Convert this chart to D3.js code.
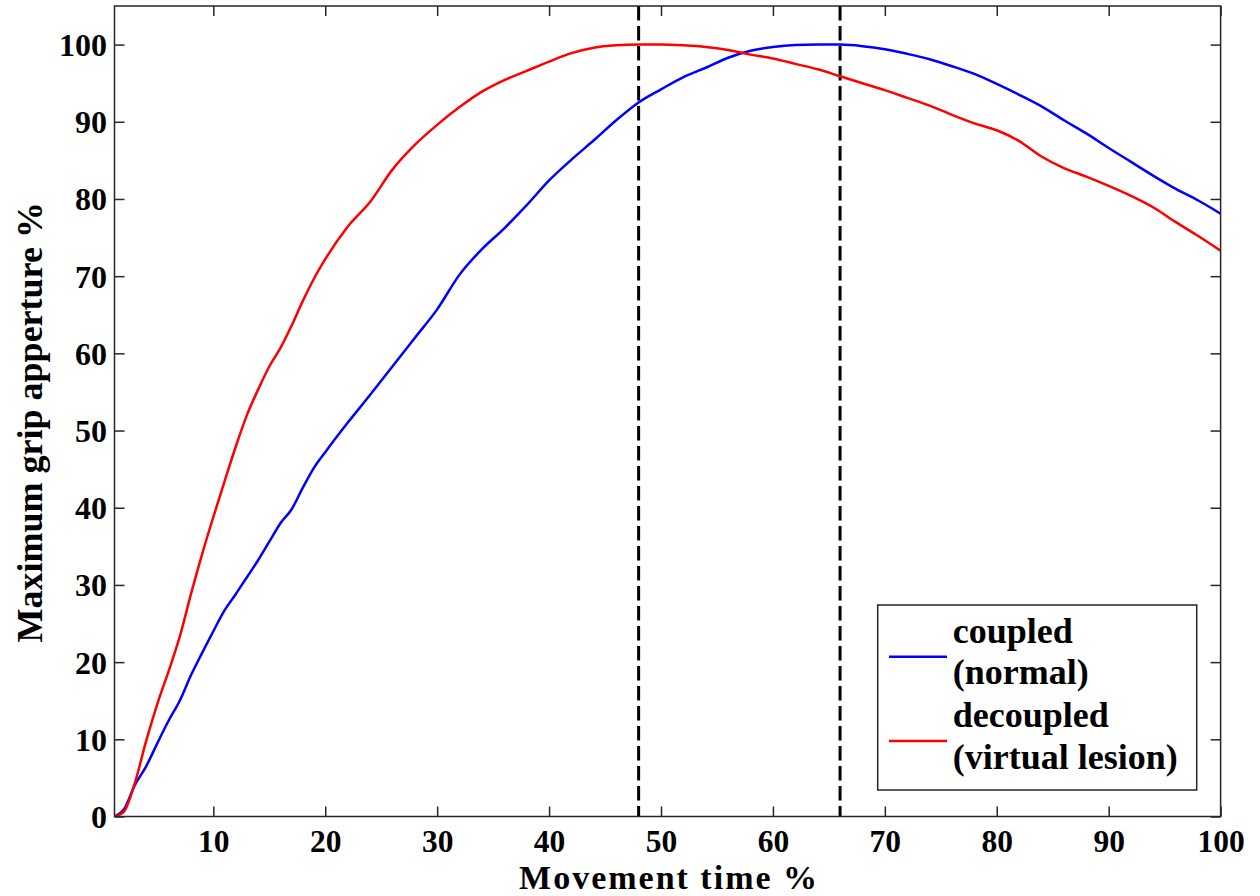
<!DOCTYPE html>
<html>
<head>
<meta charset="utf-8">
<script src="https://cdn.jsdelivr.net/npm/d3@7"></script>
<style>
  html, body { margin: 0; padding: 0; background: #fff; }
  svg { display: block; }
  svg text { font-family: "Liberation Serif", "DejaVu Serif", "Noto Serif", "Times New Roman", Times, serif !important; font-weight: bold; fill: #000; }
</style>
</head>
<body>
<svg id="chart" width="1260" height="896"></svg>
<script>
// Movement time (% of reach) at which grip aperture was sampled
const timePct = [1.2, 2, 3, 4, 5, 6, 7, 8, 9, 10, 11, 12, 13, 14, 15, 16, 17, 18, 19, 20,
  22, 24, 26, 28, 30, 32, 34, 36, 38, 40, 42, 44, 46, 48, 50, 52, 54, 56, 58, 60,
  62, 64, 66, 68, 70, 72, 74, 76, 78, 80, 82, 84, 86, 88, 90, 92, 94, 96, 98, 100];

// Normalised grip aperture, coupled (normal) model
const coupled = [0, 0.9, 4.1, 6.5, 9.5, 12.4, 15.0, 18.3, 21.2, 24.0, 26.7, 28.8, 31.0, 33.2, 35.6, 38.0, 39.8, 42.6, 45.2, 47.2,
  51.0, 54.6, 58.3, 62.0, 65.7, 70.2, 73.5, 76.2, 79.2, 82.4, 85.1, 87.6, 90.2, 92.5, 94.2, 95.8, 97.0, 98.3, 99.2, 99.7,
  99.95, 100, 100, 99.8, 99.4, 98.8, 98.1, 97.2, 96.2, 94.9, 93.5, 92.0, 90.2, 88.5, 86.6, 84.8, 83.0, 81.3, 79.8, 78.1];

// Normalised grip aperture, decoupled (virtual lesion) model
const decoupled = [0, 0.6, 4.4, 9.8, 14.6, 18.8, 23.3, 28.8, 34.0, 38.8, 43.4, 47.9, 52.0, 55.3, 58.3, 60.7, 63.6, 66.8, 69.7, 72.2,
  76.4, 79.6, 83.8, 87.0, 89.6, 91.9, 93.9, 95.4, 96.6, 97.8, 98.9, 99.6, 99.9, 100, 100, 99.9, 99.7, 99.3, 98.7, 98.2,
  97.5, 96.8, 95.9, 95.0, 94.1, 93.1, 92.1, 90.9, 89.8, 88.9, 87.5, 85.5, 84.0, 82.9, 81.7, 80.4, 78.9, 77.0, 75.2, 73.3];

// Times of peak aperture for each model
const peakTimes = [48, 66];

const xTicks = [10, 20, 30, 40, 50, 60, 70, 80, 90, 100];
const yTicks = [0, 10, 20, 30, 40, 50, 60, 70, 80, 90, 100];

const seriesNames = ["coupled", "decoupled"];
const legendLines = [["coupled", "(normal)"], ["decoupled", "(virtual lesion)"]];
const seriesColors = ["#0000ff", "#ff0000"];

const xLabel = "Movement time %";
const yLabel = "Maximum grip apperture %";

const serif = "'Liberation Serif', 'DejaVu Serif', 'Noto Serif', serif";

const svg = d3.select("#chart");
const plotLeft = 114.5, plotRight = 1220.6, plotTop = 6, plotBottom = 816.5;

const x = d3.scaleLinear().domain([1.17, 100]).range([plotLeft, plotRight]);
const y = d3.scaleLinear().domain([0, 105]).range([plotBottom, plotTop]);

const frameColor = "#262626";
const tickLen = 10;

// Curves
const seriesData = [coupled, decoupled];
const line = d3.line()
  .x((d, i) => x(timePct[i]))
  .y(d => y(d))
  .curve(d3.curveMonotoneX);

const plot = svg.append("g");
plot.append("clipPath").attr("id", "clip")
  .append("rect").attr("x", plotLeft).attr("y", plotTop)
  .attr("width", plotRight - plotLeft).attr("height", plotBottom - plotTop);

// Peak time markers
plot.selectAll("line.peak").data(peakTimes).join("line")
  .attr("class", "peak")
  .attr("x1", d => x(d)).attr("x2", d => x(d))
  .attr("y1", plotTop).attr("y2", plotBottom)
  .attr("stroke", "#000").attr("stroke-width", 3)
  .attr("stroke-dasharray", "14.5 5.5");

plot.selectAll("path.series").data(seriesData).join("path")
  .attr("class", "series")
  .attr("clip-path", "url(#clip)")
  .attr("d", d => line(d))
  .attr("fill", "none")
  .attr("stroke", (d, i) => seriesColors[i])
  .attr("stroke-width", 2.5)
  .attr("stroke-linejoin", "round");

// Axes (ticks drawn inside, mirrored on top and right)
const axisBottom = d3.axisBottom(x).tickValues(xTicks).tickSize(-tickLen).tickFormat(d3.format("d"));
const axisTop = d3.axisTop(x).tickValues(xTicks).tickSize(-tickLen).tickFormat("");
const axisLeft = d3.axisLeft(y).tickValues(yTicks).tickSize(-tickLen).tickFormat(d3.format("d"));
const axisRight = d3.axisRight(y).tickValues(yTicks).tickSize(-tickLen).tickFormat("");

function styleAxis(g) {
  g.attr("font-family", serif);
  g.select(".domain").remove();
  g.selectAll(".tick line").attr("stroke", frameColor).attr("stroke-width", 1.5);
  g.selectAll(".tick text")
    .attr("font-weight", "bold")
    .attr("font-size", 32)
    .attr("fill", "#000");
}

svg.append("g").attr("transform", `translate(0,${plotBottom})`).call(axisBottom).call(styleAxis)
  .selectAll(".tick text").attr("dy", null).attr("y", 35).attr("font-size", 31.5);
svg.append("g").attr("transform", `translate(0,${plotTop})`).call(axisTop).call(styleAxis);
svg.append("g").attr("transform", `translate(${plotLeft},0)`).call(axisLeft).call(styleAxis)
  .selectAll(".tick text").attr("x", -7.5).attr("dy", "0.34em");
svg.append("g").attr("transform", `translate(${plotRight},0)`).call(axisRight).call(styleAxis);

// Frame
svg.append("rect")
  .attr("x", plotLeft).attr("y", plotTop)
  .attr("width", plotRight - plotLeft).attr("height", plotBottom - plotTop)
  .attr("fill", "none").attr("stroke", frameColor).attr("stroke-width", 1.5);

// Axis titles
svg.append("text")
  .attr("x", (plotLeft + plotRight) / 2 + 0.5).attr("y", 889)
  .attr("text-anchor", "middle")
  .attr("font-family", serif)
  .attr("font-size", 34)
  .attr("textLength", 298)
  .attr("lengthAdjust", "spacing")
  .text(xLabel);

svg.append("text")
  .attr("transform", `translate(42,${(plotTop + plotBottom) / 2 + 11}) rotate(-90)`)
  .attr("text-anchor", "middle")
  .attr("font-family", serif)
  .attr("font-size", 36)
  .text(yLabel);

// Legend
const legend = svg.append("g").attr("font-family", serif);
legend.append("rect")
  .attr("x", 877.7).attr("y", 605)
  .attr("width", 319).attr("height", 185)
  .attr("fill", "#fff").attr("stroke", frameColor).attr("stroke-width", 1.5);

const legendRowY = [656.7, 741];
const entries = legend.selectAll("g.entry").data(seriesNames).join("g").attr("class", "entry");
entries.append("line")
  .attr("x1", 889).attr("x2", 947)
  .attr("y1", (d, i) => legendRowY[i]).attr("y2", (d, i) => legendRowY[i])
  .attr("stroke", (d, i) => seriesColors[i]).attr("stroke-width", 2.5);
entries.append("text")
  .attr("x", 952.7)
  .attr("y", (d, i) => legendRowY[i] - 14)
  .attr("font-size", 36)
  .selectAll("tspan")
  .data((d, i) => legendLines[i])
  .join("tspan")
  .attr("x", 952.7)
  .attr("dy", (d, j) => j === 0 ? 0 : 41.5)
  .text(d => d);
</script>
</body>
</html>
